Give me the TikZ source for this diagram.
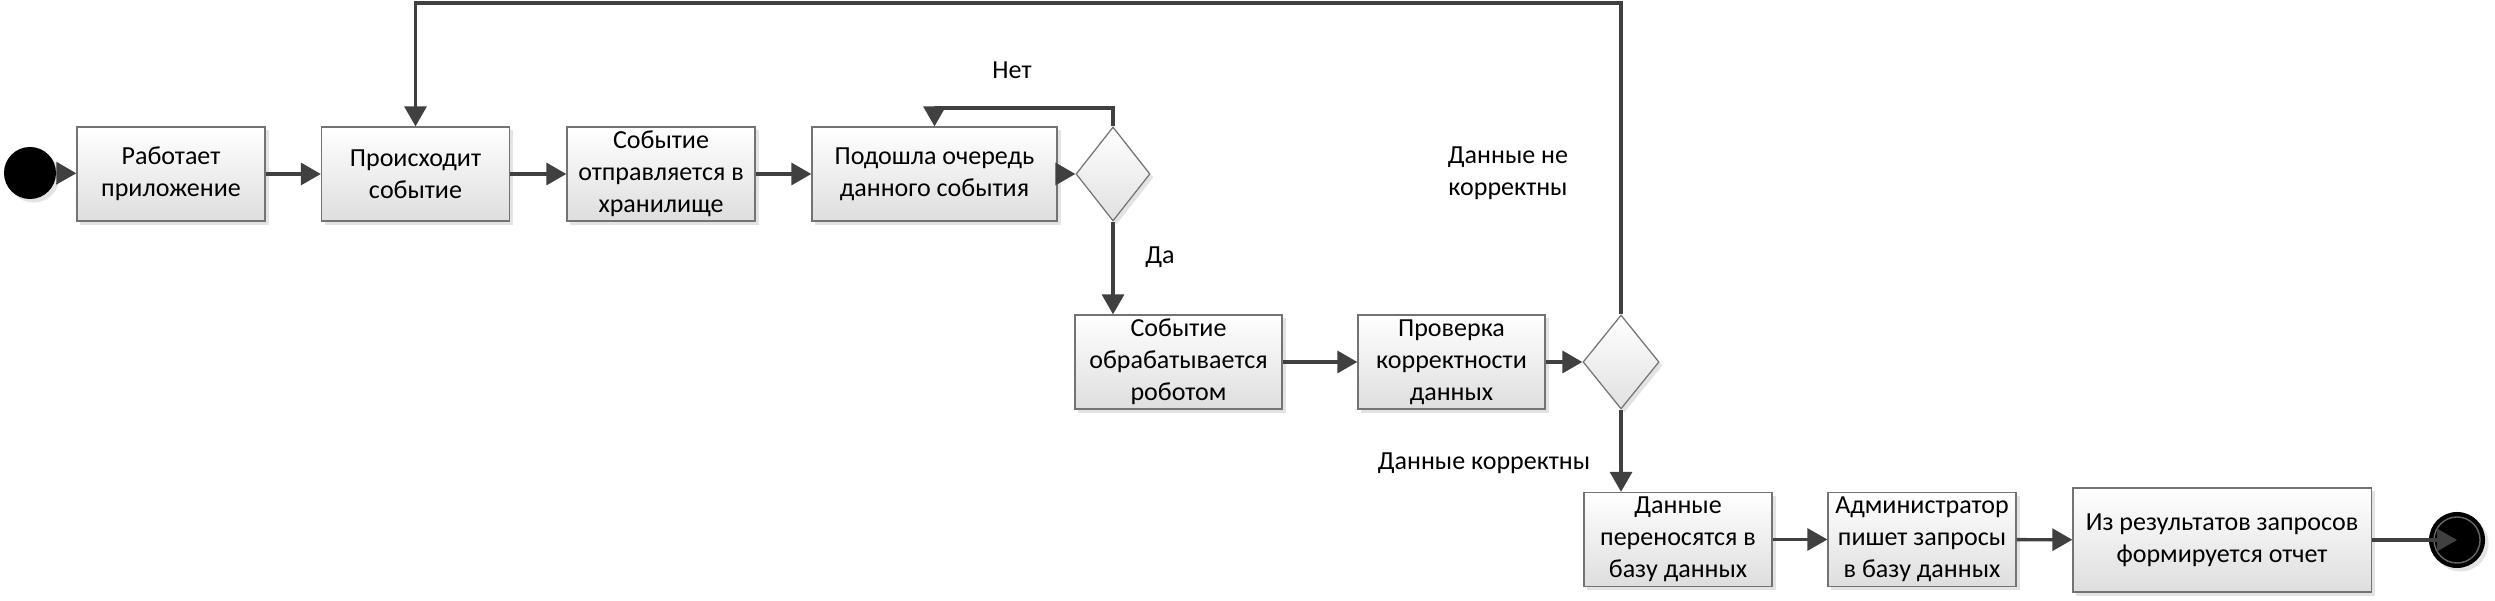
\documentclass[tikz,border=0pt]{standalone}
\usepackage{fontspec}
\setmainfont{Carlito}
\usepackage{tikz}
\usetikzlibrary{arrows.meta,shapes,shadows,positioning,calc}

\begin{document}
\begin{tikzpicture}[
    x=0.01cm, y=-0.01cm,
    font=\fontsize{7.4pt}{9.1pt}\selectfont,
    box style/.style={rectangle, draw=black!55, line width=0.35pt, top color=white, bottom color=black!13, drop shadow={shadow xshift=0.035cm, shadow yshift=-0.035cm, opacity=0.22}, minimum width=1.88cm, minimum height=0.94cm, inner sep=0pt, align=center},
    choice style/.style={diamond, draw=black!55, line width=0.35pt, top color=white, bottom color=black!12, drop shadow={shadow xshift=0.035cm, shadow yshift=-0.035cm, opacity=0.22}, minimum width=0.74cm, minimum height=0.94cm, inner sep=0pt},
    dot style/.style={circle, fill=black, inner sep=0pt, drop shadow={shadow xshift=0.035cm, shadow yshift=-0.035cm, opacity=0.22}},
    arr/.style={draw=black!75, line width=0.95pt, -{Triangle[length=0.2cm,width=0.22cm]}}
]
\useasboundingbox (0,0) rectangle (2495,601);

% first row
\node[dot style, minimum size=0.52cm] (start) at (30,173) {};
\node[box style] (run) at (171,174) {Работает\\приложение};
\node[box style] (event) at (415.5,174) {Происходит\\событие};
\node[box style] (send) at (661,174) {Событие\\отправляется в\\хранилище};
\node[box style, minimum width=2.45cm] (queue) at (934.5,174) {Подошла очередь\\данного события};
\node[choice style] (q) at (1113,174) {};

% second row
\node[box style, minimum width=2.07cm] (robot) at (1178.5,362) {Событие\\обрабатывается\\роботом};
\node[box style, minimum width=1.87cm] (check) at (1451.5,362) {Проверка\\корректности\\данных};
\node[choice style, minimum width=0.76cm] (c) at (1621,362) {};

% third row
\node[box style] (db) at (1678,539.5) {Данные\\переносятся в\\базу данных};
\node[box style] (admin) at (1922,539.5) {Администратор\\пишет запросы\\в базу данных};
\node[box style, minimum width=2.98cm, minimum height=1.04cm] (report) at (2222,540) {Из результатов запросов\\формируется отчет};
\node[dot style, minimum size=0.56cm, path picture={\draw[black!60, line width=0.4pt] (path picture bounding box.center) circle (0.23cm);}] (stop) at (2457,540) {};

\coordinate (loop) at (1113,108);
\coordinate (top) at (1621,3);

% arrows
\draw[arr] (start) -- (run);
\draw[arr] (run) -- (event);
\draw[arr] (event) -- (send);
\draw[arr] (send) -- (queue);
\draw[arr] (queue) -- (q);
\draw[arr] (q.north) -- (loop) -| (queue.north);
\draw[arr] (q.south) -- (q.south |- robot.north);
\draw[arr] (robot) -- (check);
\draw[arr] (check) -- (c);
\draw[arr] (c.north) -- (top) -| (event.north);
\draw[arr] (c.south) -- (c.south |- db.north);
\draw[arr] (db) -- (admin);
\draw[arr] (admin) -- (report);
\draw[arr] (report.east) -- (stop.center);

% labels
\node (no) at (1012,70) {Нет};
\node (yes) at (1160,257) {Да};
\node[align=center] (bad) at (1508,173) {Данные не\\корректны};
\node (good) at (1484,463) {Данные корректны};
\end{tikzpicture}
\end{document}
